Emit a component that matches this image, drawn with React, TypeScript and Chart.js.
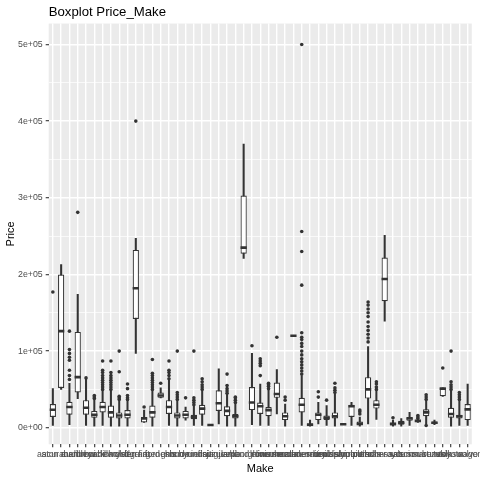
import { useEffect, useRef } from 'react';
import { Chart, registerables } from 'chart.js';

Chart.register(...registerables);

const makes = [
  'acura', 'aston martin', 'audi', 'bentley', 'bmw', 'buick', 'cadillac', 'chevrolet', 'chrysler', 'dodge',
  'ferrari', 'fiat', 'ford', 'genesis', 'gmc', 'honda', 'hummer', 'hyundai', 'infiniti', 'isuzu',
  'jaguar', 'jeep', 'kia', 'lamborghini', 'land rover', 'lexus', 'lincoln', 'maserati', 'mazda', 'mclaren',
  'mercedes-benz', 'mercury', 'mini', 'mitsubishi', 'nissan', 'oldsmobile', 'plymouth', 'pontiac', 'porsche', 'ram',
  'rolls-royce', 'saab', 'saturn', 'scion', 'smart', 'subaru', 'suzuki', 'tesla', 'toyota', 'volkswagen',
  'volvo',
];

// five-number summary per make
const whiskerLow = [
  3000, 50000, 4000, 38000, 3000, 2000, 3000, 2000, 2000, 2000,
  97000, 7000, 2000, 39000, 3000, 2000, 10000, 3000, 3000, 3000,
  5000, 2000, 2000, 221000, 4000, 3000, 3000, 18000, 2000, 120000,
  3000, 2000, 5000, 3000, 2000, 4000, 3000, 2000, 5000, 11000,
  139000, 2000, 2000, 3000, 7000, 5000, 4000, 41000, 2000, 3000,
  3000,
];
const lowerQuartile = [
  14000, 52000, 17000, 46000, 17000, 13000, 20000, 13000, 12000, 12000,
  142000, 7000, 13000, 39000, 18000, 12000, 12000, 11000, 17000, 3000,
  22000, 15000, 12000, 227000, 23000, 18000, 15000, 39000, 10000, 120000,
  20000, 2000, 10000, 10000, 12000, 4000, 14000, 4000, 38000, 25000,
  165000, 3000, 4000, 9000, 7500, 15000, 5000, 41000, 13000, 12000,
  10000,
];
const medians = [
  23500, 126000, 27000, 66000, 26000, 17000, 27000, 20000, 16000, 17000,
  182000, 12000, 20000, 42000, 27000, 16000, 17000, 14000, 25000, 3500,
  32000, 22000, 15000, 235000, 33000, 28000, 23000, 44000, 15000, 120000,
  30000, 4000, 17000, 13000, 15000, 4500, 28000, 5000, 50000, 30000,
  194000, 5000, 6500, 12000, 9000, 20000, 6500, 51000, 18000, 15000,
  24000,
];
const upperQuartile = [
  31000, 200000, 34000, 125000, 36000, 22000, 34000, 29000, 20000, 23000,
  232000, 14000, 29000, 46000, 36000, 20000, 22000, 17000, 30000, 4000,
  49000, 28000, 18000, 303000, 53000, 33000, 27000, 59000, 20000, 120000,
  39000, 6000, 20000, 16000, 20000, 5000, 30000, 8000, 66000, 36000,
  222000, 6500, 9000, 14000, 10000, 24000, 8000, 52000, 26000, 17000,
  31000,
];
const whiskerHigh = [
  51000, 213000, 58000, 174000, 63000, 37000, 49000, 49000, 36000, 36000,
  247000, 23000, 49000, 52000, 62000, 36000, 27000, 29000, 49000, 4000,
  77000, 44000, 32000, 370000, 97000, 57000, 49000, 76000, 31000, 120000,
  68000, 10000, 33000, 29000, 44000, 5000, 33000, 14000, 106000, 49000,
  251000, 10000, 12000, 20000, 11000, 36000, 10000, 52000, 49000, 36000,
  57000,
];
const outliers: number[][] = [
  [177000],
  [],
  [63000, 68000, 75000, 88000, 92000, 97000, 102000, 126000],
  [281000],
  [65000],
  [38000, 40000, 42000],
  [50000, 53000, 56000, 59000, 62000, 65000, 68000, 72000, 75000, 87000],
  [50000, 53000, 56000, 59000, 62000, 65000, 68000, 72000, 87000],
  [37000, 39000, 41000, 73000, 100000],
  [37000, 39000, 42000, 51000, 57000],
  [400000],
  [27000],
  [50000, 53000, 56000, 59000, 62000, 65000, 68000, 71000, 89000],
  [58000],
  [64000, 68000, 72000, 75000, 87000],
  [37000, 40000, 43000, 46000, 100000],
  [39000],
  [30000, 33000, 36000, 39000, 100000],
  [50000, 53000, 56000, 60000, 64000],
  [],
  [],
  [45000, 48000, 51000, 55000, 70000],
  [33000, 36000, 39000, 40000],
  [],
  [107000],
  [68000, 81000, 84000, 87000, 90000],
  [51000, 54000, 56000, 58000],
  [118000],
  [36000, 40000],
  [],
  [70000, 74000, 78000, 82000, 86000, 90000, 95000, 100000, 106000, 110000, 115000, 118000, 124000, 186000, 230000, 256000, 500000],
  [],
  [40000, 47000],
  [36000],
  [46000, 49000, 52000, 58000],
  [],
  [],
  [18000, 21000, 23000],
  [112000, 117000, 122000, 127000, 132000, 138000, 145000, 150000, 155000, 160000, 164000],
  [50000, 53000, 57000, 60000],
  [],
  [13000],
  [],
  [],
  [12000, 14000, 16000],
  [3000, 37000, 40000, 43000],
  [],
  [78000],
  [50000, 53000, 56000, 60000, 100000],
  [37000, 40000, 43000, 46000],
  [],
];
// major ticks (labelled) and minor grid positions on the price axis
const yMajorTicks = [0, 100000, 200000, 300000, 400000, 500000];
const yTickLabels = ['0e+00', '1e+05', '2e+05', '3e+05', '4e+05', '5e+05'];
const yMinorTicks = [50000, 150000, 250000, 350000, 450000];

const FONT = "'Liberation Sans', Arial, sans-serif";
const INK = '#333333';

const isMajor = (v: number) => yMajorTicks.includes(v);

const panelBackground = {
  id: 'panelBackground',
  beforeDraw(chart: Chart) {
    const { ctx, chartArea } = chart;
    ctx.save();
    ctx.fillStyle = '#FFFFFF';
    ctx.fillRect(0, 0, chart.width, chart.height);
    ctx.fillStyle = '#EBEBEB';
    ctx.fillRect(chartArea.left, chartArea.top, chartArea.right - chartArea.left, chartArea.bottom - chartArea.top);
    ctx.restore();
  },
};

const App = () => {
  const chartRef = useRef<HTMLCanvasElement>(null);
  const chartInstance = useRef<Chart | null>(null);

  useEffect(() => {
    if (!chartRef.current) return;
    if (chartInstance.current) chartInstance.current.destroy();

    Chart.defaults.font.family = FONT;

    const outlierPoints = outliers.flatMap((vals, i) => vals.map((v) => ({ x: makes[i], y: v })));

    chartInstance.current = new Chart(chartRef.current, {
      type: 'bar',
      data: {
        labels: makes,
        datasets: [
          {
            type: 'bar',
            label: 'whiskers',
            data: makes.map((_, i) => [whiskerLow[i], whiskerHigh[i]]),
            backgroundColor: INK,
            borderWidth: 0,
            barThickness: 1.4,
            grouped: false,
            order: 4,
          },
          {
            type: 'bar',
            label: 'boxes',
            data: makes.map((_, i) => [lowerQuartile[i], upperQuartile[i]]),
            backgroundColor: '#FFFFFF',
            borderColor: INK,
            borderWidth: 1.2,
            borderSkipped: false,
            barPercentage: 0.75,
            categoryPercentage: 1,
            grouped: false,
            order: 3,
          },
          {
            type: 'line',
            label: 'median',
            data: medians,
            showLine: false,
            pointStyle: 'line',
            pointRadius: 3.13,
            pointHoverRadius: 3.13,
            pointBorderWidth: 2.6,
            pointBorderColor: INK,
            order: 2,
          },
          {
            type: 'line',
            label: 'outliers',
            data: outlierPoints as any,
            showLine: false,
            pointRadius: 1.8,
            pointHoverRadius: 1.8,
            pointBorderWidth: 0,
            pointBackgroundColor: INK,
            order: 1,
          },
        ],
      },
      options: {
        responsive: true,
        maintainAspectRatio: false,
        animation: false,
        layout: { padding: { left: 0, right: 5.5, top: 0, bottom: 0 } },
        plugins: {
          legend: { display: false },
          tooltip: { enabled: false },
          title: {
            display: true,
            text: 'Boxplot Price_Make',
            align: 'start',
            fullSize: false,
            color: '#000000',
            font: { size: 13.2, weight: 'normal', family: FONT },
            padding: { top: 4.5, bottom: 3.2 },
          },
        },
        scales: {
          x: {
            type: 'category',
            offset: true,
            border: { display: false },
            grid: {
              offset: false,
              color: '#FFFFFF',
              lineWidth: 1.4,
              tickColor: INK,
              tickLength: 3,
              tickWidth: 1.1,
            },
            ticks: {
              autoSkip: false,
              maxRotation: 0,
              minRotation: 0,
              color: '#4D4D4D',
              font: { size: 8.8, family: FONT },
              padding: 2,
            },
            title: {
              display: true,
              text: 'Make',
              color: '#000000',
              font: { size: 11, family: FONT },
              padding: { top: 2, bottom: 4 },
            },
            afterFit(scale: any) {
              scale.height = 35.7;
            },
          },
          y: {
            type: 'linear',
            min: -21600,
            max: 527300,
            border: { display: false },
            afterBuildTicks(scale: any) {
              scale.ticks = [...yMajorTicks, ...yMinorTicks].sort((a, b) => a - b).map((v) => ({ value: v }));
            },
            grid: {
              color: '#FFFFFF',
              lineWidth: (ctx: any) => (ctx.tick && isMajor(ctx.tick.value) ? 1.4 : 0.7),
              tickColor: (ctx: any) => (ctx.tick && isMajor(ctx.tick.value) ? INK : 'rgba(0,0,0,0)'),
              tickLength: 3,
              tickWidth: 1.1,
            },
            ticks: {
              autoSkip: false,
              color: '#4D4D4D',
              font: { size: 8.8, family: FONT },
              padding: 3,
              callback: (value: any) => {
                const idx = yMajorTicks.indexOf(Number(value));
                return idx >= 0 ? yTickLabels[idx] : '';
              },
            },
            title: {
              display: true,
              text: 'Price',
              color: '#000000',
              font: { size: 11, family: FONT },
              padding: { top: 4, bottom: 4 },
            },
            afterFit(scale: any) {
              scale.width = 48.7;
            },
          },
        },
      },
      plugins: [panelBackground],
    });

    return () => {
      if (chartInstance.current) {
        chartInstance.current.destroy();
        chartInstance.current = null;
      }
    };
  }, []);

  return (
    <div style={{ position: 'absolute', left: 0, top: 0, width: 480, height: 480 }}>
      <canvas ref={chartRef} />
    </div>
  );
};

export default App;
